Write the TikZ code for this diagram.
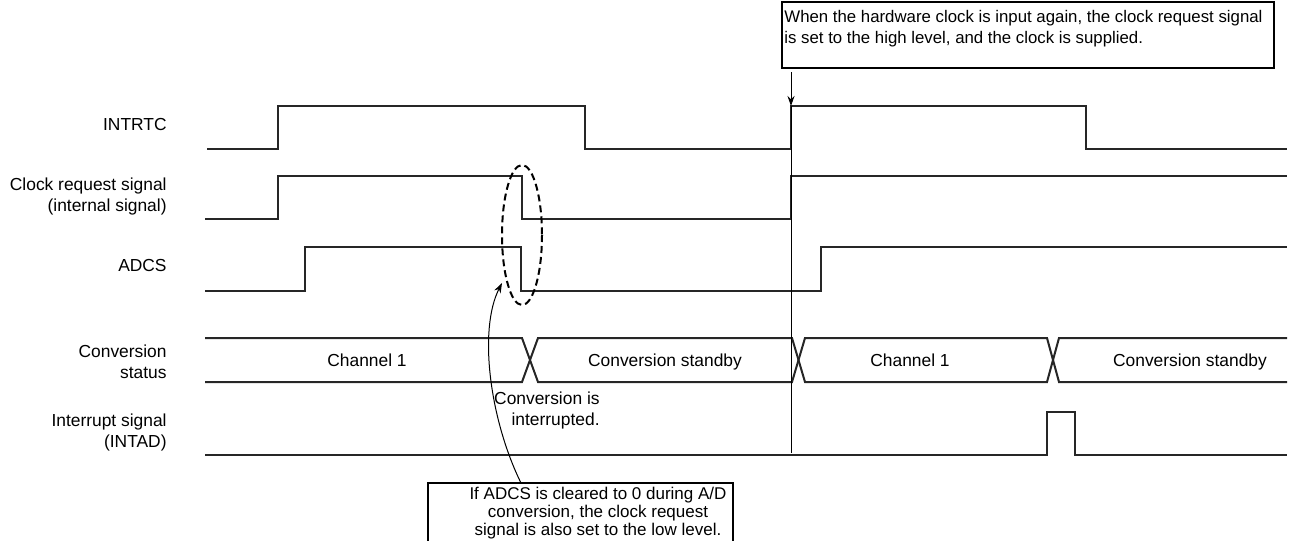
\documentclass[tikz,border=0pt]{standalone}
\usepackage{fontspec}
\setmainfont{Liberation Sans}
\usetikzlibrary{arrows.meta}
\begin{document}
\begin{tikzpicture}[x=0.5pt,y=-0.5pt,
  sig/.style={line width=1pt, line join=miter, draw=black!85},
  lbl/.style={font=\fontsize{8.7}{10.5}\selectfont, align=right, anchor=east, inner sep=0pt},
  segtxt/.style={font=\fontsize{8.7}{10.5}\selectfont, inner sep=0pt},
  notebox/.style={draw, line width=1pt},
  thin/.style={line width=0.5pt, draw=black},
  tip/.style={-{Stealth[length=5pt,width=3.5pt]}}
]
\useasboundingbox (0,0) rectangle (1307,541);

% left labels
\node[lbl] (lintrtc) at (167,125) {INTRTC};
\node[lbl] (lclk) at (167,196) {Clock request signal\\(internal signal)};
\node[lbl] (ladcs) at (167,266) {ADCS};
\node[lbl] (lconv) at (167,362) {Conversion\\status};
\node[lbl] (lint) at (167,432) {Interrupt signal\\(INTAD)};

% INTRTC
\draw[sig] (207,149) -- (278,149) -- (278,106) -- (585,106) -- (585,149) -- (791,149) -- (791,106) -- (1086,106) -- (1086,149) -- (1287,149);
% Clock request
\draw[sig] (205,219) -- (278,219) -- (278,176) -- (522,176) -- (522,219) -- (791,219) -- (791,176) -- (1287,176);
% ADCS
\draw[sig] (205,291) -- (305,291) -- (305,247) -- (521,247) -- (521,291) -- (821,291) -- (821,247) -- (1287,247);
% Conversion status
\draw[sig] (205,338) -- (522,338) -- (538,382) -- (792,382) -- (805,338) -- (1047,338) -- (1059,382) -- (1287,382);
\draw[sig] (205,382) -- (522,382) -- (538,338) -- (792,338) -- (805,382) -- (1047,382) -- (1059,338) -- (1287,338);
\node[segtxt, anchor=base] (s1) at (367,366) {Channel 1};
\node[segtxt, anchor=base] (s2) at (665,366) {Conversion standby};
\node[segtxt, anchor=base] (s3) at (910,366) {Channel 1};
\node[segtxt, anchor=base] (s4) at (1190,366) {Conversion standby};
% Interrupt
\draw[sig] (205,455) -- (1047,455) -- (1047,412) -- (1075,412) -- (1075,455) -- (1287,455);

% dashed ellipse
\draw[line width=1pt, dash pattern=on 3.5pt off 2pt] (522,235) ellipse [x radius=20, y radius=70];
\coordinate (ell) at (502,283);

% conversion interrupted
\node[lbl] (cint) at (600,410) {Conversion is\\interrupted.};

% top note
\node[notebox, minimum width=246pt, minimum height=33pt] (topnote) at (1028,35) {};
\node[anchor=north west, inner sep=0pt, align=left, font=\fontsize{8.4}{10.4}\selectfont] (topnotetxt) at (784,10)
  {When the hardware clock is input again, the clock request signal\\is set to the high level, and the clock is supplied.};
\coordinate (tstart) at (791,72);
\coordinate (thigh) at (791,106);
\coordinate (tend) at (791,453);
\draw[thin, tip] (tstart) -- (thigh);
\draw[thin] (thigh) -- (tend);

% bottom note
\begin{scope}
\clip (0,0) rectangle (1307,541);
\node[notebox, minimum width=152.5pt, minimum height=40pt, inner sep=0pt] (botbox) at (580.5,523) {};
\end{scope}
\node[segtxt, align=center, font=\fontsize{8.5}{7.7}\selectfont] (bottxt) at (598,513)
  {If ADCS is cleared to 0 during A/D\\conversion, the clock request\\signal is also set to the low level.};
\coordinate (bstart) at (521,483);
\draw[thin, tip] (bstart) .. controls (490,420) and (478,330) .. (ell);
\end{tikzpicture}
\end{document}
